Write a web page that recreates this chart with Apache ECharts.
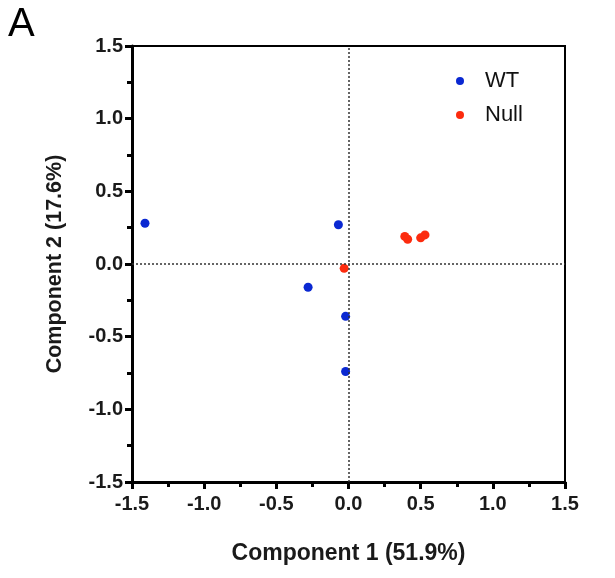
<!DOCTYPE html>
<html>
<head>
<meta charset="utf-8">
<script src="https://cdn.jsdelivr.net/npm/echarts@6/dist/echarts.min.js"></script>
<style>
  html, body { margin: 0; padding: 0; background: #fff; }
  #pca { width: 615px; height: 578px; }
</style>
</head>
<body>
<div id="pca"></div>
<script>
// PCA scores
const wtPoints = [[-1.41, 0.28], [-0.07, 0.27], [-0.28, -0.16], [-0.02, -0.36], [-0.02, -0.74]];
const nullPoints = [[-0.03, -0.03], [0.39, 0.19], [0.41, 0.17], [0.50, 0.18], [0.53, 0.20]];
const axisMin = -1.5;
const axisMax = 1.5;
const axisStep = 0.5;
const xTitle = 'Component 1 (51.9%)';
const yTitle = 'Component 2 (17.6%)';

const font = '"Liberation Sans", Arial, sans-serif';
const chart = echarts.init(document.getElementById('pca'));

const axisBase = {
  type: 'value',
  min: axisMin,
  max: axisMax,
  interval: axisStep,
  splitLine: { show: false },
  axisLine: { show: true, onZero: false, lineStyle: { color: '#000', width: 3 } },
  axisTick: { show: true, length: 7, lineStyle: { color: '#000', width: 3 } },
  minorTick: { show: true, splitNumber: 2, length: 5, lineStyle: { color: '#000', width: 3 } },
  axisLabel: {
    color: '#1a1a1a',
    fontFamily: font,
    fontWeight: 'bold',
    fontSize: 20,
    formatter: v => v.toFixed(1),
  },
  nameLocation: 'middle',
  nameTextStyle: { color: '#1a1a1a', fontFamily: font, fontWeight: 'bold' },
};

chart.setOption({
  animation: false,
  graphic: [{
    type: 'text', left: 8, top: 5,
    style: { text: 'A', font: '40px ' + font, fill: '#000' },
  }],
  grid: {
    left: 132, right: 50, top: 46, bottom: 96,
    show: true, borderColor: '#000', borderWidth: 2,
  },
  legend: {
    orient: 'vertical',
    left: 451, top: 65,
    itemGap: 12,
    itemWidth: 8, itemHeight: 8,
    textStyle: { fontFamily: font, fontSize: 22, lineHeight: 22, color: '#111', padding: [0, 0, 0, 16] },
    data: ['WT', 'Null'],
  },
  xAxis: Object.assign({}, axisBase, {
    name: xTitle, nameGap: 60,
    nameTextStyle: Object.assign({}, axisBase.nameTextStyle, { fontSize: 23 }),
    axisLabel: Object.assign({}, axisBase.axisLabel, { margin: 12 }),
  }),
  yAxis: Object.assign({}, axisBase, {
    name: yTitle, nameGap: 66,
    nameTextStyle: Object.assign({}, axisBase.nameTextStyle, { fontSize: 21.5 }),
    axisLabel: Object.assign({}, axisBase.axisLabel, { margin: 9 }),
  }),
  series: [
    {
      name: 'WT',
      type: 'scatter',
      symbolSize: 9,
      itemStyle: { color: '#0a28d2', opacity: 1 },
      data: wtPoints,
      z: 3,
      markLine: {
        silent: true,
        symbol: 'none',
        label: { show: false },
        lineStyle: { color: '#333', type: [2, 2], width: 1.5 },
        data: [{ xAxis: 0 }, { yAxis: 0 }],
      },
    },
    {
      name: 'Null',
      type: 'scatter',
      symbolSize: 9,
      itemStyle: { color: '#fc2b0e', opacity: 1 },
      data: nullPoints,
      z: 3,
    },
  ],
});
</script>
</body>
</html>
